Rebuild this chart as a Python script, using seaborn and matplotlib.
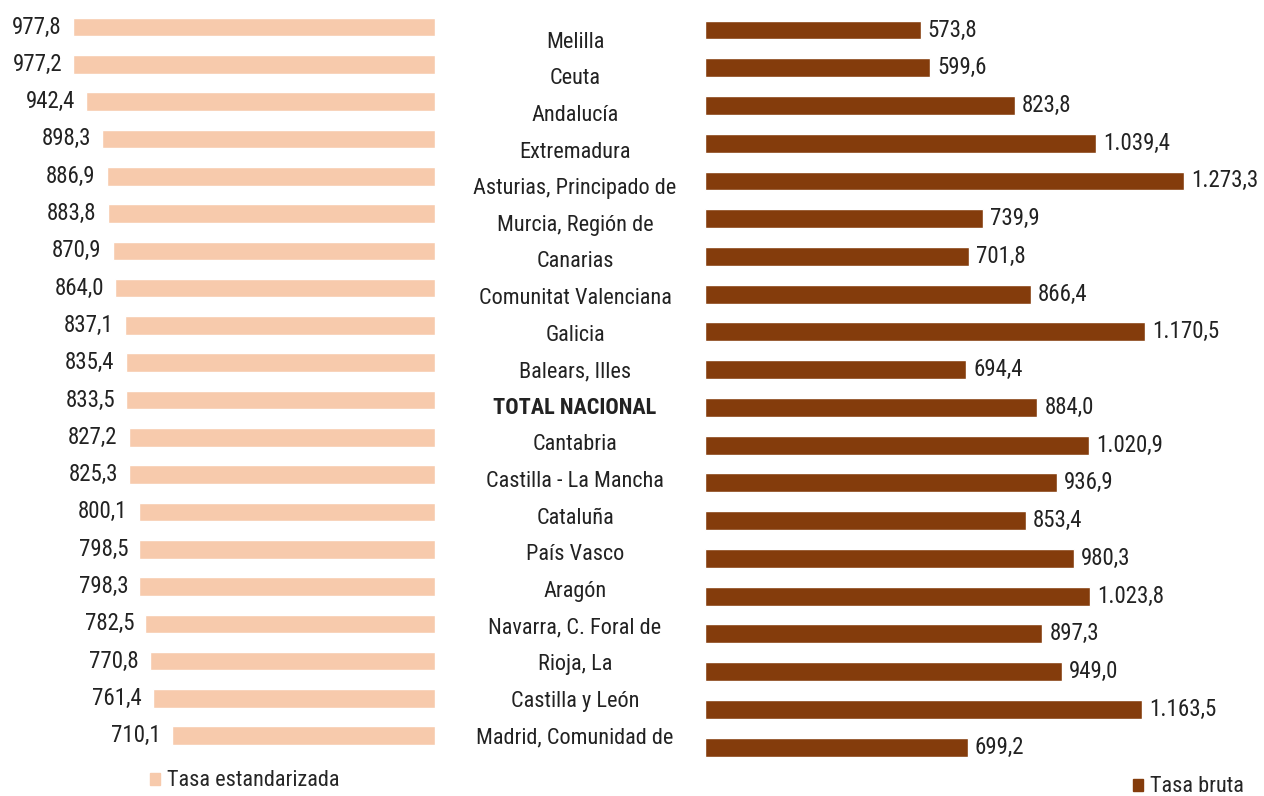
import matplotlib
matplotlib.use("Agg")
import matplotlib.pyplot as plt
import seaborn as sns
import pandas as pd
from matplotlib.patches import Patch

regiones = ["Melilla", "Ceuta", "Andalucía", "Extremadura", "Asturias, Principado de",
            "Murcia, Región de", "Canarias", "Comunitat Valenciana", "Galicia", "Balears, Illes",
            "TOTAL NACIONAL", "Cantabria", "Castilla - La Mancha", "Cataluña", "País Vasco",
            "Aragón", "Navarra, C. Foral de", "Rioja, La", "Castilla y León", "Madrid, Comunidad de"]
tasa_estandarizada = [977.8, 977.2, 942.4, 898.3, 886.9, 883.8, 870.9, 864.0, 837.1, 835.4,
                      833.5, 827.2, 825.3, 800.1, 798.5, 798.3, 782.5, 770.8, 761.4, 710.1]
tasa_bruta = [573.8, 599.6, 823.8, 1039.4, 1273.3, 739.9, 701.8, 866.4, 1170.5, 694.4,
              884.0, 1020.9, 936.9, 853.4, 980.3, 1023.8, 897.3, 949.0, 1163.5, 699.2]
series = ["Tasa estandarizada", "Tasa bruta"]

sns.set_style("white")
plt.rcParams["font.family"] = ["Roboto Condensed", "DejaVu Sans"]

def fmt(v):
    s = f"{v:,.1f}"
    return s.replace(",", "X").replace(".", ",").replace("X", ".")

df = pd.DataFrame({"region": regiones, "est": tasa_estandarizada, "bruta": tasa_bruta})

W, H = 1264, 796
fig = plt.figure(figsize=(W / 100, H / 100), dpi=100)

def px_axes(x0, x1, ytop, ybot):
    return fig.add_axes([x0 / W, 1 - ybot / H, (x1 - x0) / W, (ybot - ytop) / H])

axL = px_axes(0, 435, 8.4, 754.4)
axR = px_axes(705, 1264, 11.1, 766.0)
axC = px_axes(450, 700, 24.0, 756.0)

c_left = "#F7CAAC"
c_right = "#843C0C"
tc = "#222222"
fs = 16.5
fs_cat = 16

sns.barplot(data=df, y="region", x="est", orient="h", color=c_left, ax=axL,
            width=0.5, saturation=1)
sns.barplot(data=df, y="region", x="bruta", orient="h", color=c_right, ax=axR,
            width=0.5, saturation=1)

axL.set_xlim(1175, 0)
axR.set_xlim(0, 1487)
for ax in (axL, axR, axC):
    ax.set_ylim(len(regiones) - 0.5, -0.5)
    ax.set_xlabel("")
    ax.set_ylabel("")
    ax.set_xticks([])
    ax.set_yticks([])
    ax.patch.set_alpha(0)
    for s in ax.spines.values():
        s.set_visible(False)

for i, v in enumerate(tasa_estandarizada):
    axL.text(v + 30, i, fmt(v), ha="right", va="center", fontsize=fs, color=tc)
for i, v in enumerate(tasa_bruta):
    axR.text(v + 19, i, fmt(v), ha="left", va="center", fontsize=fs, color=tc)

axC.set_xlim(0, 1)
for i, r in enumerate(regiones):
    axC.text(0.5, i, r, ha="center", va="center", fontsize=fs_cat, color=tc,
             fontweight="bold" if r == "TOTAL NACIONAL" else "normal")

fig.legend(handles=[Patch(color=c_left, label=series[0])], loc="center left",
           bbox_to_anchor=(150 / W, 1 - 781 / H), frameon=False, fontsize=fs_cat,
           borderpad=0, borderaxespad=0,
           handlelength=0.45, handleheight=0.45, handletextpad=0.3)
fig.legend(handles=[Patch(color=c_right, label=series[1])], loc="center left",
           bbox_to_anchor=(1133 / W, 1 - 787 / H), frameon=False, fontsize=fs_cat,
           borderpad=0, borderaxespad=0,
           handlelength=0.45, handleheight=0.45, handletextpad=0.3)

fig.savefig("out.png", dpi=100)
